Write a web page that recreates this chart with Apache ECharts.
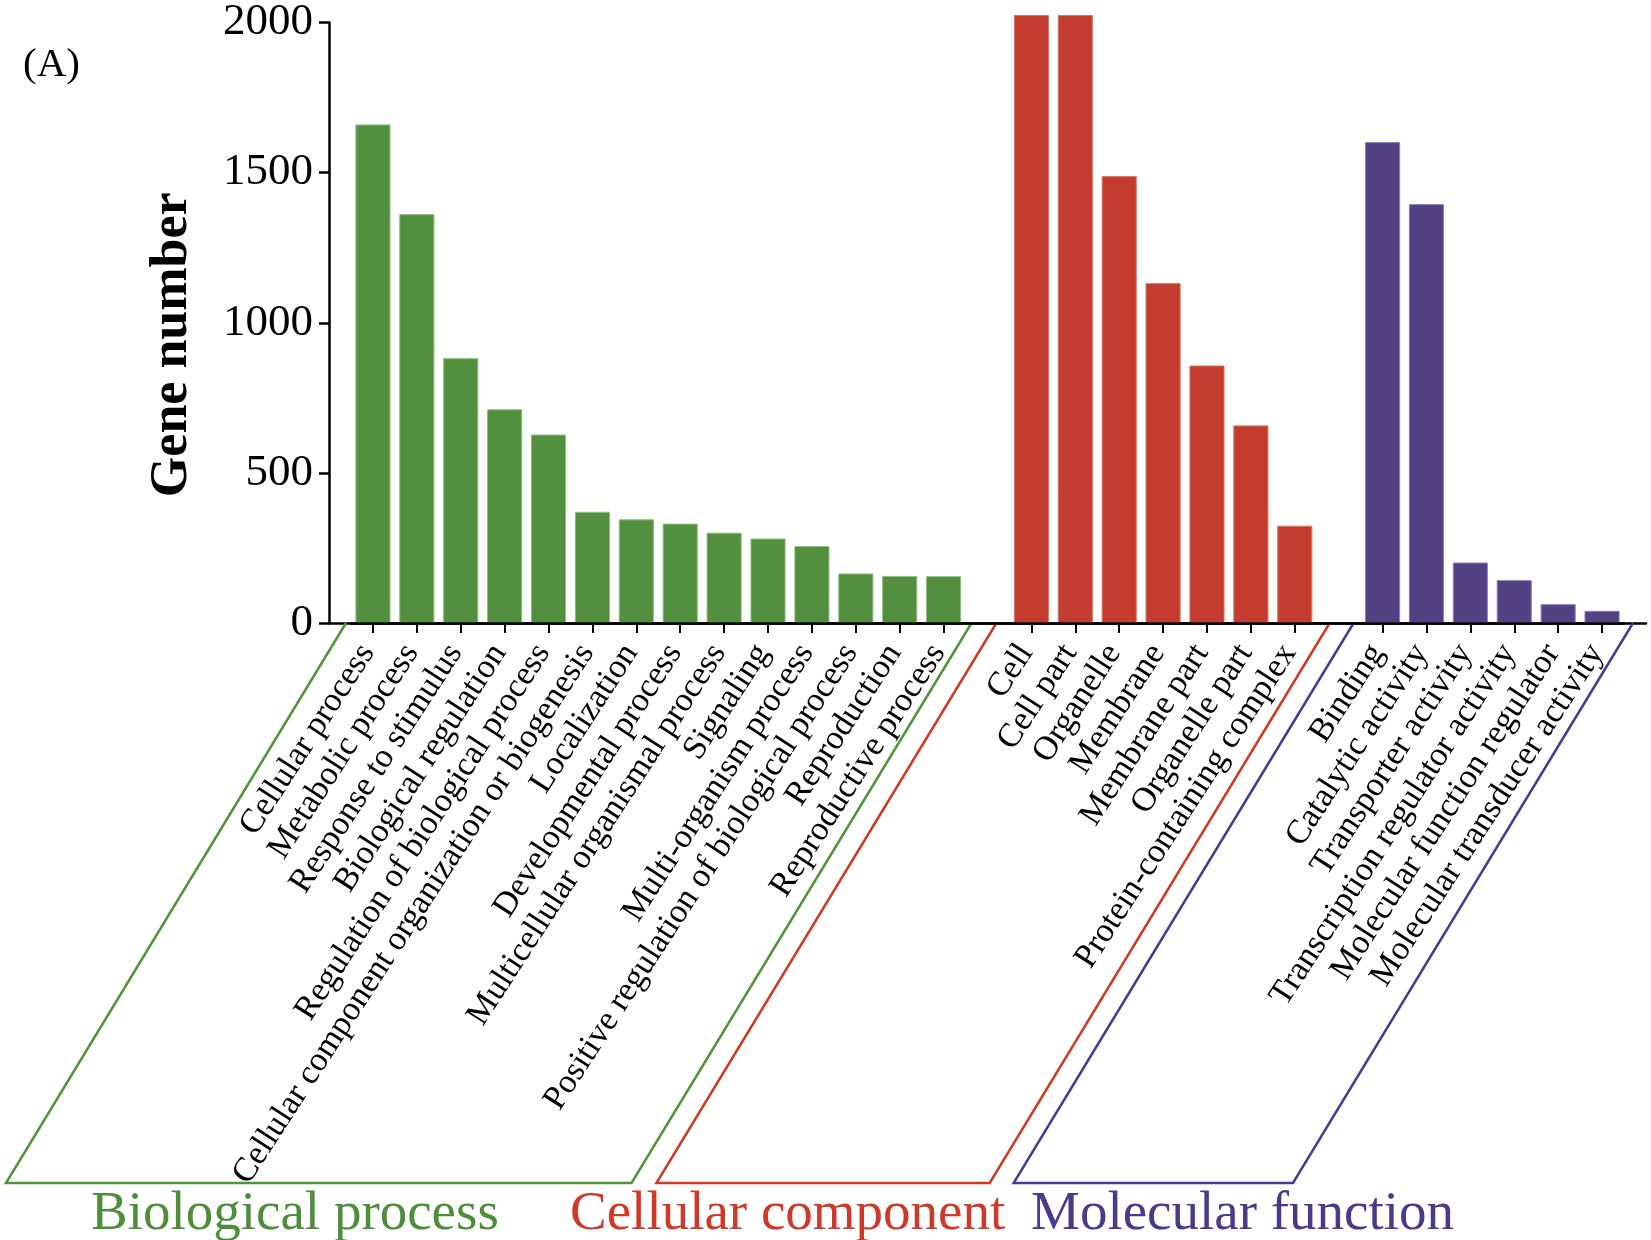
<!DOCTYPE html>
<html>
<head>
<meta charset="utf-8">
<script src="https://cdn.jsdelivr.net/npm/echarts@6/dist/echarts.min.js"></script>
<style>
html,body{margin:0;padding:0;background:#fff;}
#chart{width:1651px;height:1240px;}
</style>
</head>
<body>
<div id="chart"></div>
<script>
// ---- data ----
const bpNames = ['Cellular process','Metabolic process','Response to stimulus','Biological regulation','Regulation of biological process','Cellular component organization or biogenesis','Localization','Developmental process','Multicellular organismal process','Signaling','Multi-organism process','Positive regulation of biological process','Reproduction','Reproductive process'];
const bpValues = [1640, 1345, 871, 703, 620, 366, 341, 327, 297, 278, 253, 163, 155, 154];
const ccNames = ['Cell','Cell part','Organelle','Membrane','Membrane part','Organelle part','Protein-containing complex'];
const ccValues = [2000, 2000, 1470, 1118, 847, 650, 320];
const mfNames = ['Binding','Catalytic activity','Transporter activity','Transcription regulator activity','Molecular function regulator','Molecular transducer activity'];
const mfValues = [1582, 1378, 199, 141, 62, 40];
const groupNames = ['Biological process','Cellular component','Molecular function'];
const yTicks = [0, 500, 1000, 1500, 2000];

// ---- styles ----
const barColors = ['#52903F', '#C33C2F', '#524183'];
const barBorders = ['#8DBE7C', '#E0735F', '#8C80B8'];
const lineColors = ['#4E9639', '#D03A24', '#4A3A92'];
const textColors = ['#4E8E3B', '#D0392A', '#4B3A8C'];
const FONT = '"Liberation Serif","Times New Roman",serif';

// build categories with blank separator slots
const groups = [[bpNames, bpValues], [ccNames, ccValues], [mfNames, mfValues]];
const categories = [];
const barData = [];
const groupRanges = [];
groups.forEach(function (g, gi) {
  if (gi > 0) { categories.push(' '.repeat(gi)); barData.push(null); }
  const start = categories.length;
  g[0].forEach(function (n, i) {
    categories.push(n);
    barData.push({ value: g[1][i], itemStyle: { color: barColors[gi], borderColor: barBorders[gi], borderWidth: 1 } });
  });
  groupRanges.push([start, 0, categories.length - 1, gi]);
});

const padL = [5, 13, 7];
const padR = [6, 13, 9];
const DROP = 560, SHIFT = 340;

const chart = echarts.init(document.getElementById('chart'), null, { renderer: 'canvas' });
chart.setOption({
  animation: false,
  backgroundColor: '#fff',
  title: [
    { text: '(A)', left: 18, top: 40, textStyle: { fontFamily: FONT, fontSize: 41, fontWeight: 'normal', color: '#000' } },
    { text: groupNames[0], left: 86, top: 1182, textStyle: { fontFamily: FONT, fontSize: 55, fontWeight: 'normal', color: textColors[0] } },
    { text: groupNames[1], left: 565, top: 1182, textStyle: { fontFamily: FONT, fontSize: 55, fontWeight: 'normal', color: textColors[1] } },
    { text: groupNames[2], left: 1026, top: 1182, textStyle: { fontFamily: FONT, fontSize: 55, fontWeight: 'normal', color: textColors[2] } }
  ],
  grid: [
    { left: 351, top: 15, width: 1273, height: 608 },
    { left: 329, top: 15, width: 1317, height: 608 }
  ],
  xAxis: [
    {
      gridIndex: 0, type: 'category', data: categories, boundaryGap: true,
      axisLine: { show: true, lineStyle: { color: '#000', width: 2.5 } },
      axisTick: { show: true, alignWithLabel: true, length: 10, lineStyle: { color: '#000', width: 2 },
        interval: function (i, v) { return String(v).trim() !== ''; } },
      axisLabel: { interval: 0, rotate: 57, margin: 16, padding: [0, 10, 0, 0], fontFamily: FONT, fontSize: 34, color: '#000' },
      splitLine: { show: false }, z: 3
    },
    {
      gridIndex: 1, type: 'value', min: 0, max: 1,
      axisLine: { show: true, lineStyle: { color: '#000', width: 2.5 } },
      axisTick: { show: false }, axisLabel: { show: false }, splitLine: { show: false }
    }
  ],
  yAxis: [
    { gridIndex: 0, type: 'value', min: 0, max: 2000, interval: 500, show: false, splitLine: { show: false } },
    {
      gridIndex: 1, type: 'value', min: yTicks[0], max: yTicks[yTicks.length - 1], interval: yTicks[1] - yTicks[0],
      axisLine: { show: true, lineStyle: { color: '#000', width: 2.5 } },
      axisTick: { show: true, length: 10, lineStyle: { color: '#000', width: 2.5 } },
      axisLabel: { margin: 16, fontFamily: FONT, fontSize: 45, color: '#000', formatter: function (v) { return String(v); } },
      splitLine: { show: false },
      name: 'Gene number', nameLocation: 'middle', nameRotate: 90, nameGap: 130,
      nameTextStyle: { fontFamily: FONT, fontSize: 52, fontWeight: 'bold', color: '#000', padding: [0, 44, 0, 0] }
    }
  ],
  series: [
    {
      type: 'bar', xAxisIndex: 0, yAxisIndex: 0, data: barData,
      barCategoryGap: '20%', z: 2
    },
    {
      type: 'custom', xAxisIndex: 0, yAxisIndex: 0, clip: false, silent: true, z: 1,
      encode: { x: [0, 2], y: 1 },
      data: groupRanges,
      renderItem: function (params, api) {
        const s = api.value(0), e = api.value(2), g = api.value(3);
        const p1 = api.coord([s, 0]);
        const p2 = api.coord([e, 0]);
        const band = api.coord([s + 1, 0])[0] - p1[0];
        const x1 = p1[0] - band / 2 - padL[g];
        const x2 = p2[0] + band / 2 + padR[g];
        const y0 = p1[1];
        return {
          type: 'polyline',
          shape: { points: [[x1, y0], [x1 - SHIFT, y0 + DROP], [x2 - SHIFT, y0 + DROP], [x2, y0]] },
          style: { stroke: lineColors[g], fill: null, lineWidth: 2.5 }
        };
      }
    }
  ]
});
</script>
</body>
</html>
